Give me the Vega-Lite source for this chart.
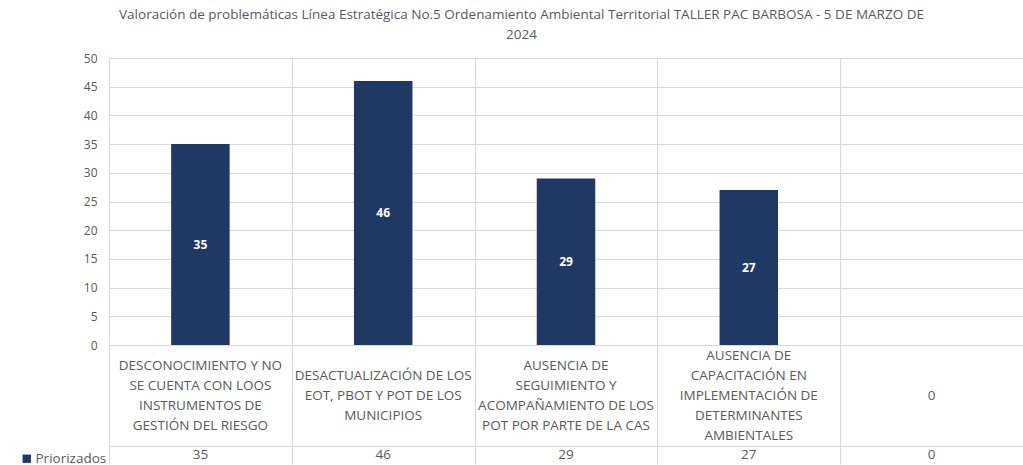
{
  "$schema": "https://vega.github.io/schema/vega-lite/v6.json",
  "background": "white",
  "padding": {"left": 20, "top": 7, "right": 0, "bottom": 0},
  "autosize": {"type": "pad"},
  "bounds": "flush",
  "spacing": 0,
  "title": {
    "text": ["Valoración de problemáticas Línea Estratégica No.5 Ordenamiento Ambiental Territorial  TALLER PAC  BARBOSA - 5 DE MARZO DE", "2024"],
    "font": "Open Sans",
    "fontSize": 13.5,
    "fontWeight": "normal",
    "color": "#595959",
    "lineHeight": 20,
    "anchor": "middle",
    "offset": 11
  },
  "config": {
    "view": {"stroke": null},
    "font": "Open Sans",
    "axis": {"gridColor": "#d9d9d9", "domainColor": "#d9d9d9"}
  },
  "data": {
    "values": [
      {"k": 1, "cat": "DESCONOCIMIENTO Y NO\nSE CUENTA CON LOOS\nINSTRUMENTOS DE\nGESTIÓN DEL RIESGO", "v": 35},
      {"k": 2, "cat": "DESACTUALIZACIÓN DE LOS\nEOT, PBOT Y POT DE LOS\nMUNICIPIOS", "v": 46},
      {"k": 3, "cat": "AUSENCIA DE\nSEGUIMIENTO Y\nACOMPAÑAMIENTO DE LOS\nPOT POR PARTE DE LA CAS", "v": 29},
      {"k": 4, "cat": "AUSENCIA DE\nCAPACITACIÓN EN\nIMPLEMENTACIÓN DE\nDETERMINANTES\nAMBIENTALES", "v": 27},
      {"k": 5, "cat": "0", "v": 0}
    ]
  },
  "vconcat": [
    {
      "width": 914,
      "height": 287,
      "encoding": {
        "x": {
          "field": "k", "type": "ordinal", "sort": null,
          "scale": {"paddingInner": 0, "paddingOuter": 0},
          "axis": {"title": null, "labels": false, "ticks": false, "domain": false, "grid": true, "tickBand": "extent"}
        }
      },
      "layer": [
        {
          "mark": {"type": "bar", "width": {"band": 0.32}},
          "encoding": {
            "y": {
              "field": "v", "type": "quantitative",
              "scale": {"domain": [0, 50]},
              "axis": {"title": null, "values": [0, 5, 10, 15, 20, 25, 30, 35, 40, 45, 50], "grid": true, "domain": false, "ticks": false, "labelColor": "#595959", "labelFontSize": 12, "labelPadding": 12, "labelOverlap": false}
            },
            "color": {
              "datum": "Priorizados",
              "scale": {"range": ["#1F3864"]},
              "legend": {
                "orient": "none", "legendX": -89, "legendY": 394, "title": null,
                "symbolType": "square", "symbolSize": 70, "symbolStrokeWidth": 0,
                "labelColor": "#595959", "labelFontSize": 13.5, "labelFont": "Open Sans", "labelOffset": 2
              }
            }
          }
        },
        {
          "transform": [{"filter": "datum.v > 0"}, {"calculate": "datum.v / 2", "as": "mid"}],
          "mark": {"type": "text", "color": "white", "fontWeight": "bold", "fontSize": 12},
          "encoding": {
            "y": {
              "field": "mid", "type": "quantitative",
              "axis": {"title": null, "values": [0, 5, 10, 15, 20, 25, 30, 35, 40, 45, 50], "grid": true, "domain": false, "ticks": false, "labelColor": "#595959", "labelFontSize": 12, "labelPadding": 12, "labelOverlap": false}
            },
            "text": {"field": "v", "type": "quantitative"}
          }
        }
      ]
    },
    {
      "width": 914,
      "height": 101,
      "transform": [
        {"calculate": "split(datum.cat, '\\n')", "as": "lines"},
        {"calculate": "length(datum.lines)", "as": "n"}
      ],
      "mark": {"type": "text", "lineHeight": 20, "fontSize": 13.5, "color": "#595959", "baseline": "middle", "align": "center"},
      "encoding": {
        "x": {
          "field": "k", "type": "ordinal", "sort": null,
          "scale": {"paddingInner": 0, "paddingOuter": 0},
          "axis": {"title": null, "labels": false, "ticks": false, "domain": true, "grid": true, "tickBand": "extent"}
        },
        "y": {"field": "n", "type": "quantitative", "scale": {"domain": [-4.05, 6.05]}, "axis": null},
        "text": {"field": "lines"}
      }
    },
    {
      "width": 914,
      "height": 18,
      "mark": {"type": "text", "fontSize": 13.5, "color": "#595959", "baseline": "middle", "align": "center"},
      "encoding": {
        "x": {
          "field": "k", "type": "ordinal", "sort": null,
          "scale": {"paddingInner": 0, "paddingOuter": 0},
          "axis": {"title": null, "labels": false, "ticks": false, "domain": false, "grid": true, "tickBand": "extent"}
        },
        "text": {"field": "v", "type": "quantitative"}
      }
    }
  ]
}
